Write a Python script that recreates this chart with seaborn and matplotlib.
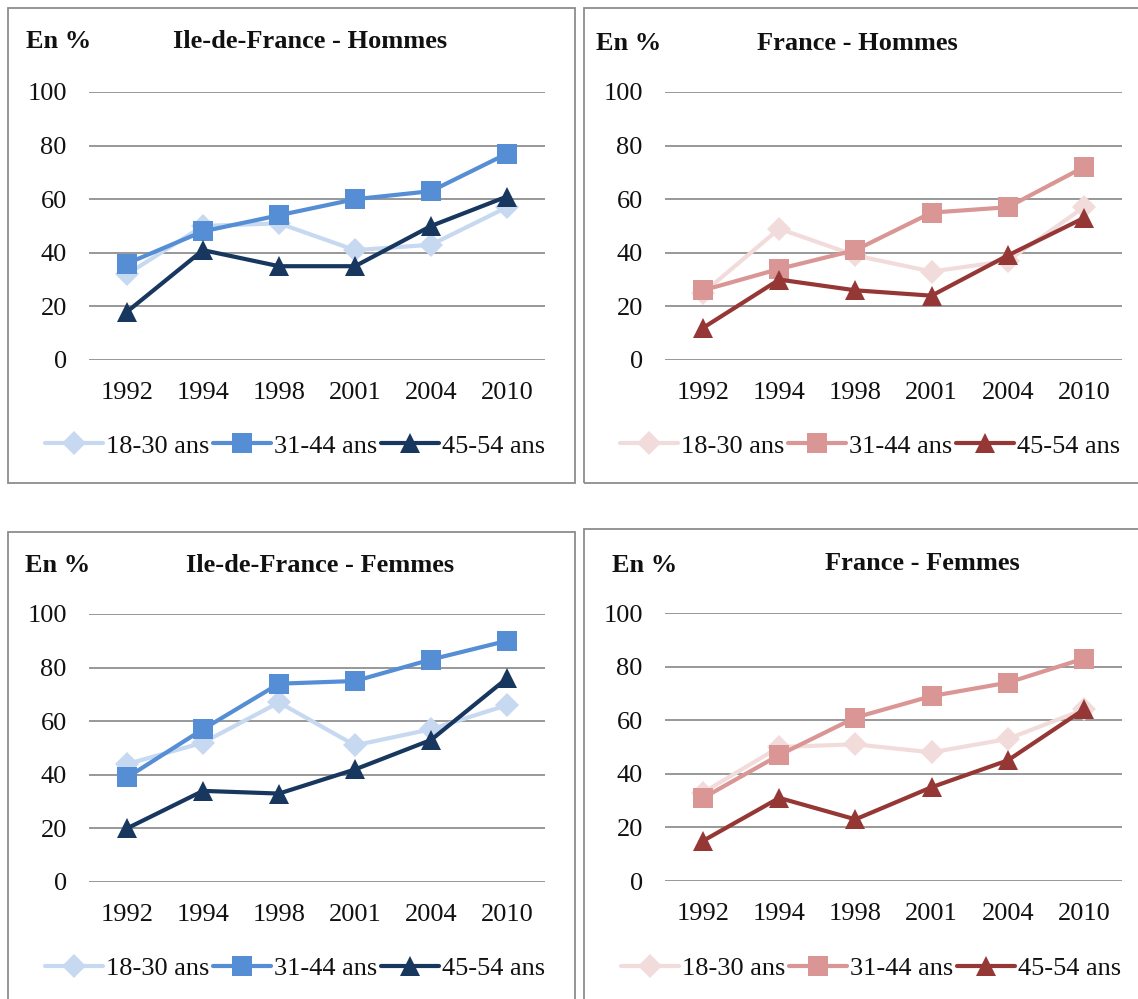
import pandas as pd
import matplotlib.pyplot as plt
import seaborn as sns
from matplotlib.patches import Rectangle

# Share of people (en %) by age group, survey years on the x axis
years = ["1992", "1994", "1998", "2001", "2004", "2010"]
ages = ["18-30 ans", "31-44 ans", "45-54 ans"]

idf_hommes_18_30 = [32, 50, 51, 41, 43, 57]
idf_hommes_31_44 = [36, 48, 54, 60, 63, 77]
idf_hommes_45_54 = [18, 41, 35, 35, 50, 61]

fr_hommes_18_30 = [25, 49, 39, 33, 37, 57]
fr_hommes_31_44 = [26, 34, 41, 55, 57, 72]
fr_hommes_45_54 = [12, 30, 26, 24, 39, 53]

idf_femmes_18_30 = [44, 52, 67, 51, 57, 66]
idf_femmes_31_44 = [39, 57, 74, 75, 83, 90]
idf_femmes_45_54 = [20, 34, 33, 42, 53, 76]

fr_femmes_18_30 = [33, 50, 51, 48, 53, 64]
fr_femmes_31_44 = [31, 47, 61, 69, 74, 83]
fr_femmes_45_54 = [15, 31, 23, 35, 45, 64]

blues = ["#c6d9f1", "#558ed5", "#17375e"]
reds = ["#f2dcdb", "#d99694", "#953735"]
marker_sizes = [12, 14, 15]

sns.set_theme(style="white")
plt.rcParams["font.family"] = ["Liberation Serif", "DejaVu Serif"]

W, H = 1138, 999
FS = 19
fig = plt.figure(figsize=(W / 100, H / 100), dpi=100)


def px_box(x0, y0, x1, y1):
    # pixel box (top-left origin) -> figure fraction [left, bottom, width, height]
    return [x0 / W, 1 - y1 / H, (x1 - x0) / W, (y1 - y0) / H]


# panel: title, series, colours, plot area, frame, "En %" pos, title pos, legend center
panels = [
    ("Ile-de-France - Hommes", [idf_hommes_18_30, idf_hommes_31_44, idf_hommes_45_54], blues,
     (89, 92, 545, 360), (8, 8, 575, 483), (26, 42), (310, 42), (295, 446)),
    ("France - Hommes", [fr_hommes_18_30, fr_hommes_31_44, fr_hommes_45_54], reds,
     (665, 92, 1122, 360), (584, 8, 1145, 483), (596, 43), (857, 43), (870, 446)),
    ("Ile-de-France - Femmes", [idf_femmes_18_30, idf_femmes_31_44, idf_femmes_45_54], blues,
     (89, 614, 545, 882), (8, 532, 575, 1010), (25, 565), (320, 565), (295, 968)),
    ("France - Femmes", [fr_femmes_18_30, fr_femmes_31_44, fr_femmes_45_54], reds,
     (665, 613, 1122, 881), (584, 529, 1145, 1010), (612, 565), (922, 564), (871, 968)),
]

for title, series, colors, area, frame, en_pos, title_pos, leg_pos in panels:
    # gray frame around each chart
    fx0, fy0, fx1, fy1 = frame
    fig.patches.append(Rectangle((fx0 / W, 1 - fy1 / H), (fx1 - fx0) / W, (fy1 - fy0) / H,
                                 transform=fig.transFigure, fill=False,
                                 edgecolor="#8c8c8c", linewidth=1.3))

    df = pd.DataFrame({
        "year": years * 3,
        "age": [a for a in ages for _ in years],
        "pct": series[0] + series[1] + series[2],
    })

    ax = fig.add_axes(px_box(*area))
    sns.lineplot(data=df, x="year", y="pct", hue="age", style="age",
                 markers=["D", "s", "^"], dashes=False, palette=colors,
                 linewidth=3, markersize=14, markeredgewidth=0, ax=ax)
    for line, ms in zip(ax.lines[:len(ages)], marker_sizes):
        line.set_markersize(ms)

    ax.set_xlim(-0.5, 5.5)
    ax.set_ylim(0, 100)
    ax.set_yticks([0, 20, 40, 60, 80, 100])
    ax.set_xlabel("")
    ax.set_ylabel("")
    ax.yaxis.grid(True, color="#868686", linewidth=1.2)
    ax.xaxis.grid(False)
    ax.set_axisbelow(True)
    for s in ax.spines.values():
        s.set_visible(False)
    ax.patch.set_alpha(0)
    ax.tick_params(axis="y", length=0, pad=16, labelsize=FS, labelcolor="#111111")
    ax.tick_params(axis="x", length=0, pad=16, labelsize=FS, labelcolor="#111111")

    handles, labels = ax.get_legend_handles_labels()
    ax.get_legend().remove()
    for h, ms in zip(handles, marker_sizes):
        h.set_markersize(ms)
    fig.legend(handles, labels, loc="center", ncol=3, frameon=False,
               bbox_to_anchor=(leg_pos[0] / W, 1 - leg_pos[1] / H),
               fontsize=FS, handlelength=2.2, handletextpad=0.1,
               columnspacing=0.15, numpoints=1, labelcolor="#111111")

    fig.text(en_pos[0] / W, 1 - en_pos[1] / H, "En %", ha="left", va="center",
             fontsize=FS, fontweight="bold", color="#111111")
    fig.text(title_pos[0] / W, 1 - title_pos[1] / H, title, ha="center", va="center",
             fontsize=FS, fontweight="bold", color="#111111")

fig.savefig("out.png", dpi=100)
